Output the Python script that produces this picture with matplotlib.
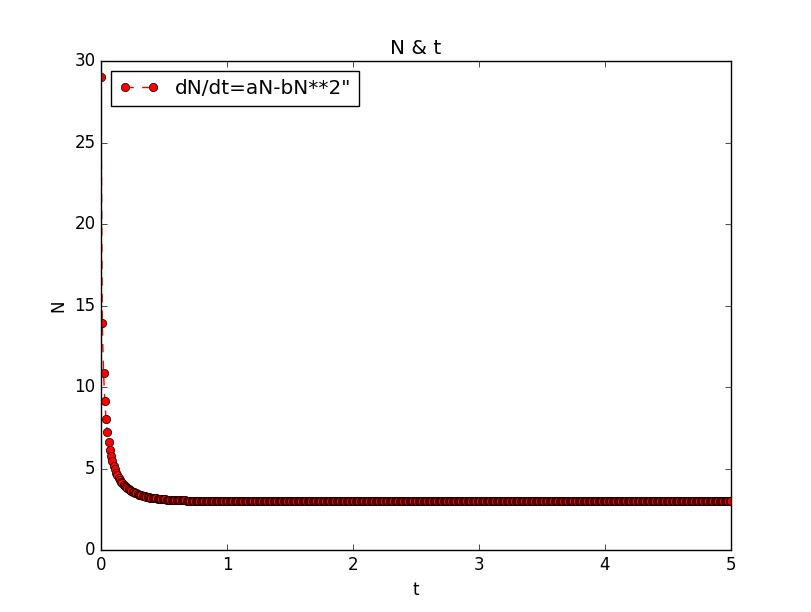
import numpy as np
import matplotlib
matplotlib.use("Agg")
import matplotlib.pyplot as plt

plt.style.use('classic')

# N values (one point every 0.01 in t)
N_head = [29.0, 13.92, 10.88, 9.17, 8.04, 7.23, 6.62, 6.14, 5.75, 5.44,
          5.17, 4.95, 4.75, 4.59, 4.44, 4.31, 4.20, 4.10, 4.01, 3.93,
          3.86, 3.79, 3.73, 3.68, 3.63, 3.58, 3.54, 3.50, 3.47, 3.43,
          3.40, 3.38, 3.35, 3.33, 3.31, 3.29, 3.27, 3.25, 3.23, 3.22,
          3.20, 3.19, 3.18, 3.17, 3.16, 3.15, 3.14, 3.13, 3.12, 3.11,
          3.11, 3.10, 3.09, 3.09, 3.08, 3.08, 3.07, 3.07, 3.06, 3.06,
          3.06, 3.05, 3.05, 3.05, 3.04, 3.04, 3.04, 3.04, 3.03, 3.03,
          3.03, 3.03, 3.03, 3.02, 3.02, 3.02, 3.02, 3.02, 3.02, 3.02,
          3.02, 3.02, 3.01, 3.01, 3.01, 3.01, 3.01, 3.01, 3.01, 3.01,
          3.01, 3.01, 3.01, 3.01, 3.01, 3.01, 3.01, 3.01, 3.01, 3.01]
N_plateau = [3.0] * 401
N = N_head + N_plateau
t = np.linspace(0, 5, len(N))

fig = plt.figure(figsize=(8.12, 6.12), dpi=100)
fig.subplots_adjust(left=0.1244, right=0.9002, bottom=0.1013, top=0.9003)
ax = fig.add_subplot(111)

ax.plot(t, N, 'ro--', label='dN/dt=aN-bN**2"')
ax.set_xlim(0, 5)
ax.set_ylim(0, 30)
ax.set_title('N & t')
ax.set_xlabel('t')
ax.set_ylabel('N')
ax.legend(loc='upper left')

fig.savefig('out.png', dpi=100)
